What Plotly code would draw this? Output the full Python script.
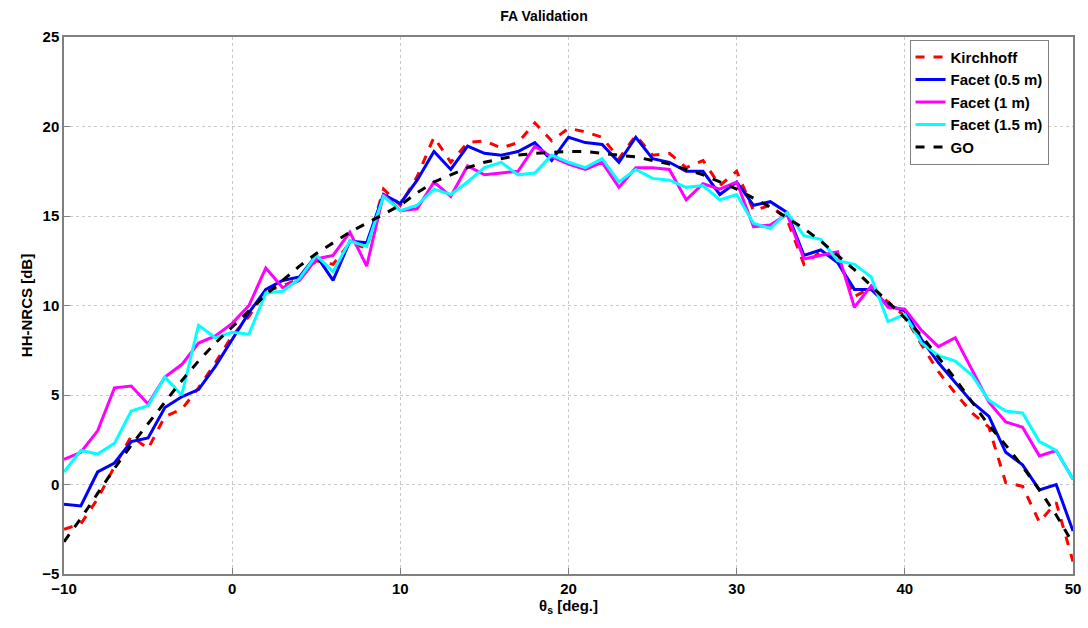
import plotly.graph_objects as go

theta = list(range(-10, 51))

kirchhoff = [-2.5, -2.2, -0.8, 1.0, 2.7, 2.0, 3.8, 4.2, 5.4, 6.8, 8.3, 9.4,
             10.8, 11.1, 11.5, 12.5, 12.3, 13.5, 13.2, 16.5, 15.6, 17.2, 19.4, 18.0,
             19.1, 19.2, 18.8, 19.1, 20.2, 19.2, 19.9, 19.7, 19.4, 18.2, 19.5, 18.4,
             18.5, 17.7, 18.1, 16.7, 17.5, 15.3, 15.6, 14.8, 12.3, 13.0, 12.6, 10.5,
             11.0, 10.2, 9.4, 7.8, 6.3, 5.1, 4.0, 3.2, 0.1, -0.1, -2.1, -1.0, -4.3]

facet_05 = [-1.1, -1.2, 0.7, 1.2, 2.4, 2.6, 4.3, 4.9, 5.3, 6.6, 8.1, 9.6,
            10.9, 11.4, 11.6, 12.8, 11.4, 13.6, 13.5, 16.2, 15.7, 17.0, 18.6, 17.6,
            18.9, 18.5, 18.4, 18.6, 19.1, 18.1, 19.4, 19.1, 19.0, 18.0, 19.4, 18.2,
            18.0, 17.5, 17.5, 16.2, 16.9, 15.6, 15.8, 15.2, 12.8, 13.1, 12.4, 10.9,
            10.9, 10.0, 9.7, 8.1, 6.8, 5.7, 4.6, 3.8, 1.8, 1.1, -0.3, 0.0, -2.6]

facet_1 = [1.4, 1.8, 3.0, 5.4, 5.5, 4.5, 6.0, 6.7, 7.9, 8.3, 9.0, 10.0,
           12.1, 11.0, 11.4, 12.6, 12.8, 14.1, 12.2, 16.2, 15.3, 15.4, 16.9, 16.1,
           17.8, 17.3, 17.4, 17.5, 18.9, 18.3, 17.9, 17.6, 18.0, 16.6, 17.7, 17.7,
           17.6, 15.9, 16.8, 16.5, 16.9, 14.4, 14.5, 15.1, 12.6, 12.8, 13.0, 9.9,
           11.1, 9.9, 9.8, 8.6, 7.7, 8.2, 6.4, 4.6, 3.5, 3.2, 1.6, 1.9, 0.3]

facet_15 = [0.7, 1.9, 1.7, 2.3, 4.1, 4.4, 6.0, 5.0, 8.9, 8.2, 8.5, 8.4,
            10.7, 10.8, 11.5, 12.8, 11.9, 13.6, 13.3, 16.1, 15.3, 15.6, 16.5, 16.2,
            16.9, 17.7, 18.0, 17.3, 17.4, 18.4, 18.0, 17.7, 18.2, 16.9, 17.6, 17.1,
            17.0, 16.6, 16.7, 15.9, 16.2, 14.6, 14.3, 15.2, 13.9, 13.7, 12.5, 12.3,
            11.6, 9.1, 9.5, 7.9, 7.2, 6.9, 6.1, 4.7, 4.1, 4.0, 2.4, 1.9, 0.3]

go_curve = [-3.2, -1.9, -0.5, 0.9, 2.2, 3.4, 4.6, 5.8, 6.9, 7.9, 8.8, 9.7,
            10.6, 11.4, 12.2, 12.9, 13.5, 14.1, 14.6, 15.1, 15.6, 16.3, 16.9, 17.3,
            17.7, 18.0, 18.2, 18.4, 18.5, 18.55, 18.6, 18.6, 18.5, 18.4, 18.3, 18.1,
            17.9, 17.6, 17.3, 16.9, 16.5, 16.0, 15.5, 14.9, 14.3, 13.6, 12.8, 12.0,
            11.1, 10.2, 9.3, 8.3, 7.1, 5.9, 4.6, 3.3, 2.2, 1.0, -0.3, -1.7, -3.3]

series = [
    ("Kirchhoff", kirchhoff, "#ff0000", "dash"),
    ("Facet (0.5 m)", facet_05, "#0000ff", "solid"),
    ("Facet (1 m)", facet_1, "#ff00ff", "solid"),
    ("Facet (1.5 m)", facet_15, "#00ffff", "solid"),
    ("GO", go_curve, "#000000", "dash"),
]

fig = go.Figure()
for name, vals, color, dash in series:
    fig.add_trace(go.Scatter(x=theta, y=vals, mode="lines", name=name,
                             line=dict(color=color, width=3, dash=dash)))

font_family = "Liberation Sans, Arial, sans-serif"
axis_common = dict(
    showline=True, linecolor="#808080", linewidth=1.5, mirror=True,
    ticks="inside", ticklen=6, tickcolor="#808080",
    showgrid=True, gridcolor="#c8c8c8", griddash="dot", gridwidth=1,
    zeroline=False,
    tickfont=dict(family=font_family, size=15, color="#000000", weight="bold"),
)

fig.update_layout(
    width=1088, height=628,
    margin=dict(l=64, r=7, t=37, b=54),
    paper_bgcolor="white", plot_bgcolor="white",
    title=dict(text="<b>FA Validation</b>", x=0.5, xanchor="center", y=0.975, yanchor="middle",
               font=dict(family=font_family, size=14, color="#000000")),
    xaxis=dict(range=[-10, 50], tickvals=list(range(-10, 51, 10)),
               title=dict(text="<b>θ<sub>s</sub> [deg.]</b>", standoff=2,
                          font=dict(family=font_family, size=15, color="#000000")),
               **axis_common),
    yaxis=dict(range=[-5, 25], tickvals=list(range(-5, 26, 5)),
               title=dict(text="<b>HH-NRCS [dB]</b>", standoff=6,
                          font=dict(family=font_family, size=15, color="#000000")),
               **axis_common),
    legend=dict(x=0.838, y=0.995, xanchor="left", yanchor="top",
                bgcolor="white", bordercolor="#808080", borderwidth=1,
                font=dict(family=font_family, size=15, color="#000000", weight="bold"),
                tracegroupgap=0, itemwidth=30),
    showlegend=True,
)

fig.write_html("out.html")
